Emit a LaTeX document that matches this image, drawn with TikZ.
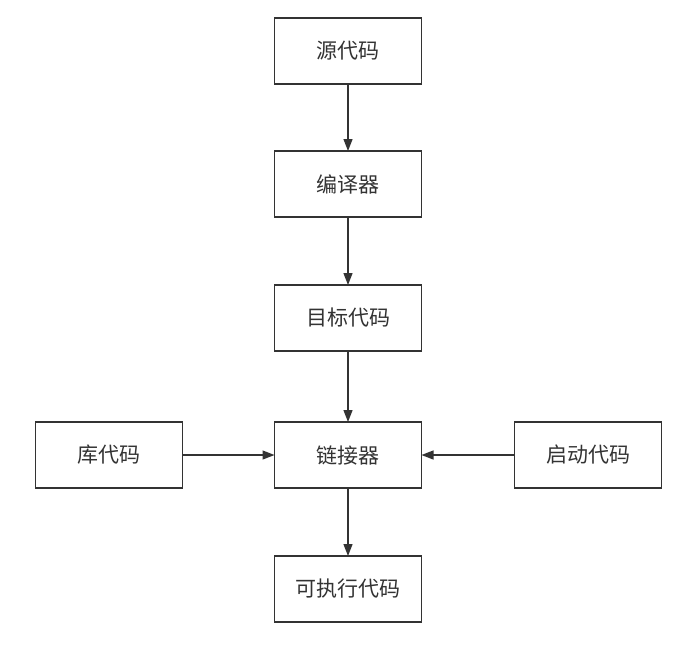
\documentclass[tikz,border=0pt]{standalone}
\usepackage{fontspec}
\newfontfamily\cjk{Noto Sans CJK SC}
\usetikzlibrary{positioning,arrows.meta}
\definecolor{linegray}{HTML}{333333}
\tikzset{
  blockbox/.style={draw=linegray, line width=1.5pt, minimum width=147pt, minimum height=66pt,
    inner sep=0pt, outer sep=0pt, text=linegray, font=\cjk\fontsize{21}{25}\selectfont},
  flow/.style={draw=linegray, line width=1.3pt, -{Triangle[length=12pt,width=9pt]}}
}
\begin{document}
\begin{tikzpicture}[x=1pt,y=1pt,node distance=67pt and 92pt]
    \useasboundingbox (0,0) rectangle (692,-656);
    \node[blockbox] (src) at (348,-51) {源代码};
    \node[blockbox, below=of src] (comp) {编译器};
    \node[blockbox, below=68pt of comp] (obj) {目标代码};
    \node[blockbox, below=71pt of obj] (link) {链接器};
    \node[blockbox, below=68pt of link] (exe) {可执行代码};
    \node[blockbox, left=of link] (lib) {库代码};
    \node[blockbox, right=93pt of link] (boot) {启动代码};

    \draw[flow] (src) -- (comp);
    \draw[flow] (comp) -- (obj);
    \draw[flow] (obj) -- (link);
    \draw[flow] (link) -- (exe);
    \draw[flow] (lib) -- (link);
    \draw[flow] (boot) -- (link);
\end{tikzpicture}
\end{document}
